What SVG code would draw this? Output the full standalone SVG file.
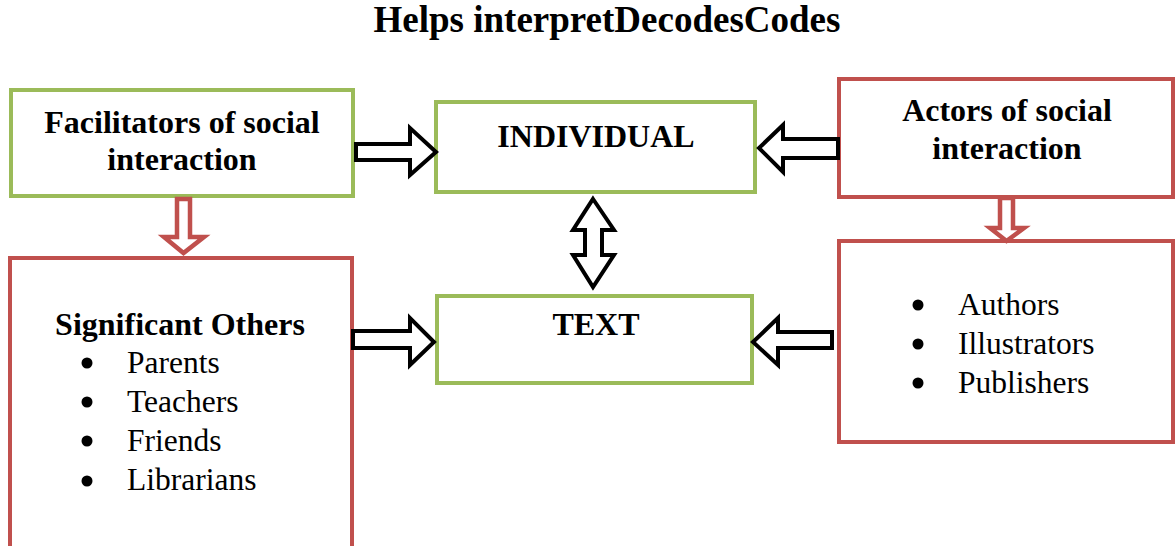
<svg xmlns="http://www.w3.org/2000/svg" width="1176" height="546" viewBox="0 0 1176 546">
<style>
.g{fill:#fff;stroke:#9bbb59;stroke-width:4}
.r{fill:#fff;stroke:#c0504d;stroke-width:4}
.b{font-family:"Liberation Serif",serif;font-weight:bold;font-size:32px;fill:#000}
.n{font-family:"Liberation Serif",serif;font-size:31.5px;fill:#000}
.ak{fill:#fff;stroke:#000;stroke-width:4;stroke-linejoin:miter}
.ar{fill:#fff;stroke:#c0504d;stroke-width:4.5;stroke-linejoin:miter}
</style>
<rect width="1176" height="546" fill="#fff"/>
<text x="607" y="32" text-anchor="middle" class="b" style="font-size:37px">Helps interpretDecodesCodes</text>
<g id="facilitators">
<rect class="g" x="11" y="90" width="342" height="106"/>
<text class="b" x="182" y="133" text-anchor="middle">Facilitators of social</text>
<text class="b" x="182" y="170" text-anchor="middle">interaction</text>
</g>
<g id="individual">
<rect class="g" x="436" y="102" width="319" height="90"/>
<text class="b" x="596" y="147" text-anchor="middle">INDIVIDUAL</text>
</g>
<g id="actors">
<rect class="r" x="839" y="79" width="334" height="118"/>
<text class="b" x="1007" y="121" text-anchor="middle">Actors of social</text>
<text class="b" x="1007" y="159" text-anchor="middle">interaction</text>
</g>
<g id="significant">
<rect class="r" x="10" y="258" width="342" height="290"/>
<text class="b" x="180" y="335" text-anchor="middle">Significant Others</text>
<g class="n">
<circle cx="87" cy="363" r="5.5"/><text x="127" y="373">Parents</text>
<circle cx="87" cy="402" r="5.5"/><text x="127" y="412">Teachers</text>
<circle cx="87" cy="441" r="5.5"/><text x="127" y="451">Friends</text>
<circle cx="87" cy="481" r="5.5"/><text x="127" y="490">Librarians</text>
</g>
</g>
<g id="text">
<rect class="g" x="437" y="296" width="315" height="87"/>
<text class="b" x="596" y="335" text-anchor="middle">TEXT</text>
</g>
<g id="creators">
<rect class="r" x="839" y="241" width="334" height="201"/>
<g class="n">
<circle cx="918" cy="305" r="5.5"/><text x="958" y="315">Authors</text>
<circle cx="918" cy="344" r="5.5"/><text x="958" y="354">Illustrators</text>
<circle cx="918" cy="383" r="5.5"/><text x="958" y="393">Publishers</text>
</g>
</g>
<g id="connectors">
<polygon class="ak" points="356,144 410,144 410,128 436,152 410,175 410,160 356,160"/>
<polygon class="ak" points="838,139 783,139 783,125 759,148 783,172 783,158 838,158"/>
<polygon class="ak" points="353,331 410,331 410,318 434,342 410,365 410,348 353,348"/>
<polygon class="ak" points="832,332 778,332 778,318 753,342 778,365 778,348 832,348"/>
<polygon class="ak" points="593,199 614,230 602,230 602,255 614,255 593,287 573,255 585,255 585,230 573,230"/>
<polygon class="ar" points="177,199 190,199 190,237 204,237 183.5,253 164,237 177,237"/>
<polygon class="ar" points="1000,198 1013,198 1013,228 1024,228 1006.5,241 990,228 1000,228"/>
</g>
</svg>
